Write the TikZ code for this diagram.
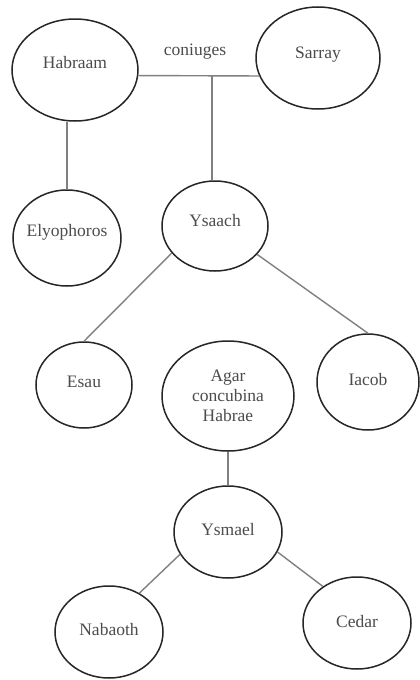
\documentclass[tikz,border=0pt]{standalone}
\usepackage{fontspec}
\setmainfont{Liberation Serif}
\newfontfamily\diagfont{Liberation Serif}
\usetikzlibrary{shapes.geometric}
\begin{document}
\begin{tikzpicture}[x=1pt,y=-1pt,
  person/.style={draw=black!85, line width=1.5pt, ellipse, inner sep=0pt},
  link/.style={draw=black!50, line width=1.4pt},
  txt/.style={text=black!70, font=\diagfont\fontsize{17.5}{20}\selectfont, align=center, inner sep=0pt}]
\useasboundingbox[fill=white] (0,0) rectangle (420,680);
\node[person, minimum width=126, minimum height=102, label={[txt,yshift=7pt]center:Habraam}] (Habraam) at (75,70) {};
\node[person, minimum width=124, minimum height=102, label={[txt,yshift=3pt]center:Sarray}] (Sarray) at (318,58) {};
\node[person, minimum width=108, minimum height=96, label={[txt,yshift=6pt]center:Elyophoros}] (Elyophoros) at (67,238) {};
\node[person, minimum width=106, minimum height=90, label={[txt,yshift=5pt]center:Ysaach}] (Ysaach) at (215,226) {};
\node[person, minimum width=96, minimum height=86, label={[txt,yshift=3pt]center:Esau}] (Esau) at (84,385) {};
\node[person, minimum width=132, minimum height=110, label={[txt]center:Agar\\concubina\\Habrae}] (Agar) at (228,396) {};
\node[person, minimum width=102, minimum height=96, label={[txt,yshift=2pt]center:Iacob}] (Iacob) at (368,382) {};
\node[person, minimum width=108, minimum height=92, label={[txt,yshift=2pt]center:Ysmael}] (Ysmael) at (228,532) {};
\node[person, minimum width=108, minimum height=92, label={[txt,yshift=2pt]center:Nabaoth}] (Nabaoth) at (109,632) {};
\node[person, minimum width=108, minimum height=92, label={[txt,yshift=1pt]center:Cedar}] (Cedar) at (357,623) {};
\node[txt] (coniuges) at (195,52) {coniuges};
\coordinate (m) at (212,76);
\draw[link] (Habraam.-5) -- (Sarray.197);
\draw[link] (m) -- (m |- Ysaach.north);
\draw[link] (Elyophoros.north |- Habraam.south) -- (Elyophoros.north);
\draw[link] (Ysaach.212) -- (Esau.north);
\draw[link] (Ysaach.326) -- (Iacob.north);
\draw[link] (Agar.south) -- (Ysmael.north);
\draw[link] (Ysmael.205) -- (Nabaoth.52);
\draw[link] (Ysmael.338) -- (Cedar.133);
\end{tikzpicture}
\end{document}
